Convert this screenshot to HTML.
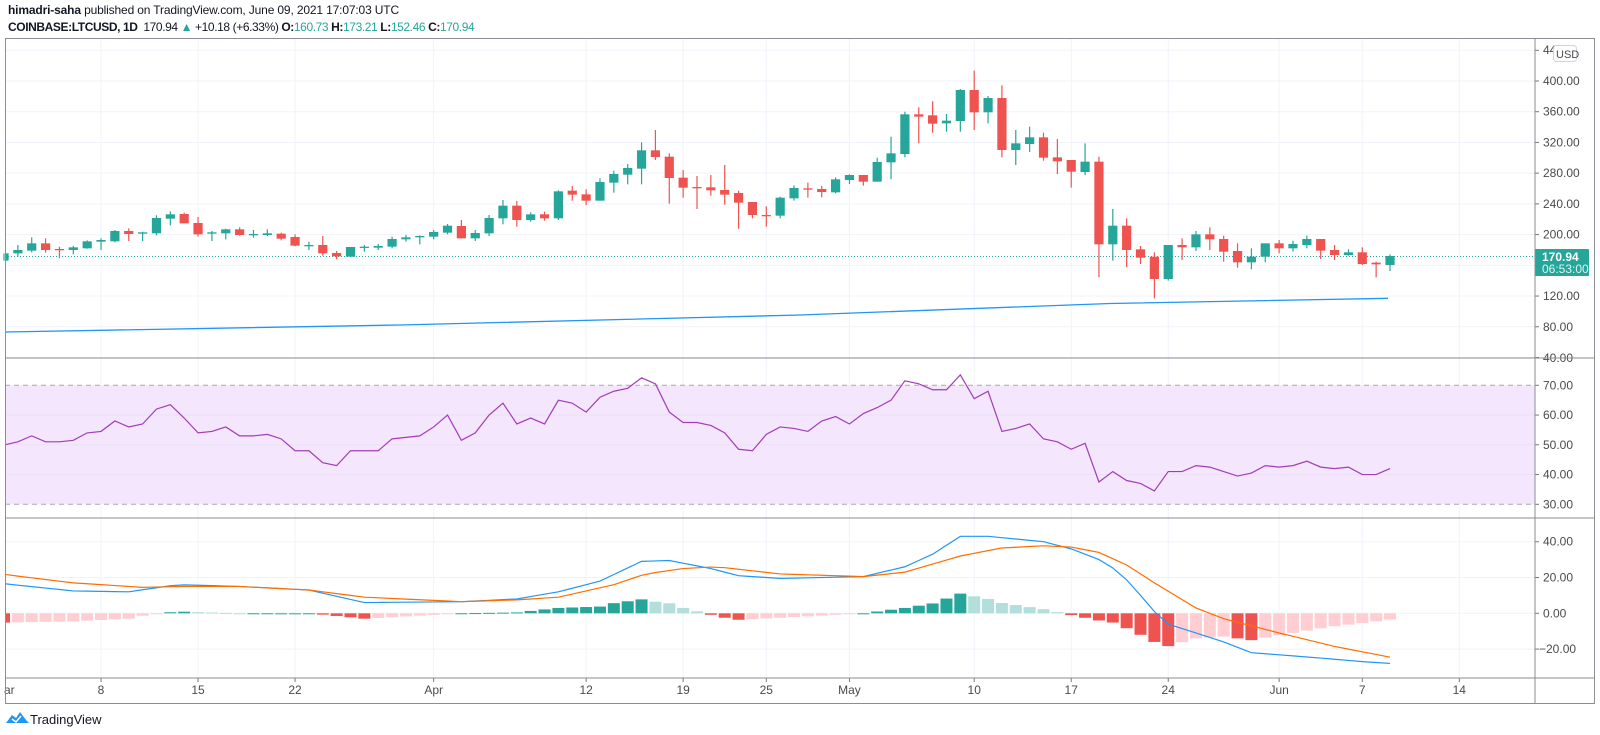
<!DOCTYPE html>
<html><head><meta charset="utf-8"><style>
html,body{margin:0;padding:0;background:#fff;width:1600px;height:735px;overflow:hidden;font-family:"Liberation Sans",sans-serif;}
.h{position:absolute;left:8px;font-size:12px;color:#131722;white-space:nowrap;}
.t{color:#26a69a}
</style></head><body>
<div class="h" style="top:3px;letter-spacing:-0.15px"><b>himadri-saha</b> published on TradingView.com, June 09, 2021 17:07:03 UTC</div>
<div class="h" style="top:20px;letter-spacing:-0.4px"><b>COINBASE:LTCUSD, 1D</b>&nbsp; 170.94 <span class="t">▲</span> +10.18 (+6.33%) <b>O:</b><span class="t">160.73</span> <b>H:</b><span class="t">173.21</span> <b>L:</b><span class="t">152.46</span> <b>C:</b><span class="t">170.94</span></div>
<svg id="s" width="1600" height="735" style="position:absolute;left:0;top:0" xmlns="http://www.w3.org/2000/svg"></svg>
<script>
var o=[];
function X(d){return 4+d*13.86;}
var vd=[0,7,14,21,31,42,49,55,61,70,77,84,92,98,105];
var vl=["ar","8","15","22","Apr","12","19","25","May","10","17","24","Jun","7","14"];
vd.forEach(function(d){var x=X(d);if(x>6)o.push('<line x1="'+x+'" y1="38" x2="'+x+'" y2="678" stroke="#f0f3fa"/>');});
function PY(p){return 81+(400-p)*0.768;}
for(var p=440;p>=40;p-=40){var y=PY(p);o.push('<line x1="5" y1="'+y+'" x2="1535" y2="'+y+'" stroke="#f0f3fa"/>');o.push('<line x1="1535" y1="'+y+'" x2="1539" y2="'+y+'" stroke="#777"/>');
 if(p<440&&p>40)o.push('<text x="1543" y="'+(y+4)+'" font-size="12" fill="#4a4a4a">'+p.toFixed(2)+'</text>');}
o.push('<text x="1543" y="54" font-size="12" fill="#4a4a4a">44</text>');
o.push('<text x="1543" y="362" font-size="12" fill="#4a4a4a">40.00</text>');
function RY(v){return 385.3+(70-v)*2.975;}
o.push('<rect x="5" y="'+RY(70)+'" width="1530" height="'+(RY(30)-RY(70))+'" fill="#f3e6fd"/>');
[60,50,40].forEach(function(v){o.push('<line x1="5" y1="'+RY(v)+'" x2="1535" y2="'+RY(v)+'" stroke="#ebe0f7"/>');});
[70,30].forEach(function(v){o.push('<line x1="5" y1="'+RY(v)+'" x2="1535" y2="'+RY(v)+'" stroke="#a9a9b4" stroke-dasharray="5,4"/>');});
[70,60,50,40,30].forEach(function(v){var y=RY(v);o.push('<line x1="1535" y1="'+y+'" x2="1539" y2="'+y+'" stroke="#777"/><text x="1543" y="'+(y+4)+'" font-size="12" fill="#4a4a4a">'+v.toFixed(2)+'</text>');});
var rsi=[50,51,53,51,51,51.5,54,54.5,58,56,57,62,63.5,59,54,54.5,56,53,53,53.5,52,48,48,44,43,48,48,48,52,52.5,53,56,60,51.5,54,60,64,57,59,57,65,64,61,66,68,69,72.5,70.5,61,57.5,57.5,56.5,54,48.5,48,53.5,56,55.5,54.5,58,59.5,57,60.5,62.5,65,71.5,70.5,68.5,68.5,73.5,65.5,68,54.5,55.5,57,52,51,48.5,50.5,37.5,41,38,37,34.5,41,41,43,42.5,41,39.5,40.5,43,42.5,43,44.5,42.5,42,42.5,40,40,42];
o.push('<polyline fill="none" stroke="#a23cb8" stroke-width="1.2" points="'+rsi.map(function(v,i){return Math.max(X(i),5)+','+RY(v)}).join(' ')+'"/>');
function MY(v){return 613.3-v*1.79;}
[40,20,0,-20].forEach(function(v){var y=MY(v);o.push('<line x1="5" y1="'+y+'" x2="1535" y2="'+y+'" stroke="#f0f3fa"/><line x1="1535" y1="'+y+'" x2="1539" y2="'+y+'" stroke="#777"/><text x="'+(v<0?1539:1543)+'" y="'+(y+4)+'" font-size="12" fill="#4a4a4a">'+(v<0?'\u2212'+(-v).toFixed(2):v.toFixed(2))+'</text>');});
function interp(k,n){var r=[];for(var d=0;d<=n;d++){for(var j=0;j<k.length-1;j++){if(d>=k[j][0]&&d<=k[j+1][0]){var t=(d-k[j][0])/(k[j+1][0]-k[j][0]);r.push(k[j][1]+t*(k[j+1][1]-k[j][1]));break;}}}return r;}
var blue=interp([[0,16.5],[5,12.5],[9,12],[12.5,16],[17,15],[22,13],[26,6],[33,6.5],[37,8],[40,12],[43,18],[46,29],[48,29.5],[51,25],[53,21],[56,19.5],[62,20.5],[65,26],[67,33],[69,43],[71,43],[75,40],[77,36],[79,30],[80.5,23],[82,10],[83,1],[84,-6],[88,-16],[90,-22],[95,-25],[98,-27],[100,-28]],100);
var orng=interp([[0,21.7],[5,17],[10,14.5],[13,15],[17,15],[22,13],[26,9],[33,6.5],[37,7.5],[40,9],[44,16],[46.3,22],[49,25],[51.4,26],[56,22],[62,20.5],[65,23],[69,32],[72,36.5],[75,37.7],[77,37],[79,34],[81,27],[83,17],[86,3],[88,-3],[92,-11],[96,-18.5],[100,-24.5]],100);
var prev=0;
for(var d=0;d<=100;d++){var h=blue[d]-orng[d];var c;
 if(h>=0)c=(h>=prev)?'#26a69a':'#b2dfdb';else c=(h<=prev)?'#ef5350':'#ffcdd2';
 prev=h;var y1=MY(Math.max(h,0)),y2=MY(Math.min(h,0));var x=X(d)-6;var w=12;if(x<5){w-=5-x;x=5;}
 o.push('<rect x="'+x+'" y="'+y1+'" width="'+w+'" height="'+Math.max(y2-y1,1)+'" fill="'+c+'"/>');}
o.push('<polyline fill="none" stroke="#2196f3" stroke-width="1.2" points="'+blue.map(function(v,i){return Math.max(X(i),5)+','+MY(v)}).join(' ')+'"/>');
o.push('<polyline fill="none" stroke="#ff6d00" stroke-width="1.2" points="'+orng.map(function(v,i){return Math.max(X(i),5)+','+MY(v)}).join(' ')+'"/>');
o.push('<polyline fill="none" stroke="#2196f3" stroke-width="1.3" points="5,332 400,325 800,315 1110,303.5 1388,298.3"/>');
o.push('<line x1="5" y1="256.5" x2="1535" y2="256.5" stroke="#26a69a" stroke-dasharray="1,2"/>');
var Z=[[170,[[0,250,272,250,272,'g'],[1,240,250,225,260,'g'],[2,220,242,202,247,'g'],[3,220,240,205,248,'r'],[4,237,239,230,265,'r'],[5,232,240,228,253,'g'],[6,214,235,211,236,'g'],[7,210,215,205,240,'g'],[8,183,214,180,217,'g'],[9,183,192,175,213,'r'],[10,187,191,185,213,'g'],[11,144,190,136,196,'g'],[12,133,146,124,166,'g'],[13,132,160,128,160,'r'],[14,159,193,141,200,'r'],[15,187,191,183,213,'g'],[16,178,190,176,208,'g'],[17,178,195,172,197,'r'],[18,192,195,180,203,'g'],[19,190,195,178,198,'g'],[20,191,206,188,211,'r'],[21,201,227,193,229,'r'],[22,225,227,215,240,'g'],[23,225,250,198,257,'r'],[24,249,259,243,268,'r'],[25,231,260,231,260,'g'],[26,230,233,225,245,'g'],[27,228,233,222,240,'g'],[28,207,230,200,235,'g'],[29,202,208,195,215,'g'],[30,198,202,196,223,'g'],[31,186,200,180,208,'g']]],
[110,[[32,347,368,342,373,'g'],[33,348,385,330,385,'r'],[34,369,385,360,393,'g'],[35,324,370,315,378,'g'],[36,287,325,270,343,'g'],[37,287,330,273,350,'r'],[38,313,330,307,335,'g'],[39,313,325,305,332,'r'],[40,244,325,241,330,'g'],[41,242,254,228,272,'r'],[42,253,272,238,285,'r'],[43,216,272,205,272,'g'],[44,192,218,182,248,'g'],[45,174,194,162,223,'g'],[46,121,176,97,223,'g'],[47,121,141,60,150,'r'],[48,140,204,130,281,'r'],[49,203,233,180,263,'r'],[50,231,233,198,297,'r'],[51,232,241,195,257,'r'],[52,240,254,165,284,'r'],[53,249,278,242,356,'r'],[54,276,315,276,325,'r'],[55,315,317,289,350,'r'],[56,263,317,260,325,'g'],[57,234,265,226,272,'g'],[58,235,238,218,263,'r'],[59,237,246,228,262,'r'],[60,208,247,202,250,'g'],[61,195,210,193,222,'g'],[62,195,215,195,227,'r'],[63,156,215,143,215,'g']]],
[60,[[64,280,307,230,358,'g'],[65,163,282,155,292,'g'],[66,163,170,142,250,'r'],[67,166,191,124,218,'r'],[68,182,190,162,215,'g'],[69,90,183,87,215,'g'],[70,90,157,32,210,'r'],[71,114,157,108,190,'g'],[72,114,270,76,292,'r'],[73,250,270,210,315,'g'],[74,232,252,200,276,'g'],[75,232,293,218,302,'r'],[76,292,304,237,342,'r'],[77,300,335,300,383,'r'],[78,305,336,250,345,'g'],[79,305,553,290,652,'r']]],
[90,[[80,407,463,357,512,'g'],[81,407,480,385,532,'r'],[82,478,503,468,522,'r'],[83,500,567,487,625,'r'],[84,465,567,465,572,'g'],[85,465,472,445,510,'r'],[86,433,472,423,483,'g'],[87,433,448,412,480,'r'],[88,447,485,437,515,'r'],[89,483,517,460,533,'r'],[90,500,517,475,538,'g'],[91,460,500,460,517,'g'],[92,460,475,450,490,'r'],[93,462,475,452,485,'g'],[94,447,465,437,475,'g'],[95,447,482,447,507,'r'],[96,480,495,465,510,'r'],[97,487,495,478,497,'g'],[98,487,522,472,525,'r'],[99,518,523,515,562,'r'],[100,498,525,493,543,'g']]]];
Z.forEach(function(g){var y0=g[0];g[1].forEach(function(c){var x=X(c[0]);var col=c[5]=='g'?'#26a69a':'#ef5350';
 var bt=y0+c[1]/3,bb=y0+c[2]/3,wt=y0+c[3]/3,wb=y0+c[4]/3;
 o.push('<line x1="'+x+'" y1="'+wt+'" x2="'+x+'" y2="'+wb+'" stroke="'+col+'" stroke-width="1.2"/>');
 var bx=x-4.6,bw=9.2;if(bx<5){bw-=5-bx;bx=5;}
 o.push('<rect x="'+bx+'" y="'+bt+'" width="'+bw+'" height="'+Math.max(bb-bt,1.3)+'" fill="'+col+'"/>');});});
o.push('<rect x="1535" y="249" width="54" height="27" rx="1" fill="#26a69a"/><text x="1542" y="261" font-size="12" font-weight="bold" fill="#fff">170.94</text><text x="1542" y="273" font-size="12" fill="#e0f2f1">06:53:00</text>');
o.push('<rect x="1553.5" y="45.5" width="23" height="16" rx="3" fill="#fff" stroke="#d1d4dc"/><text x="1556" y="58" font-size="11" fill="#4a4a4a">USD</text>');
vd.forEach(function(d,i){var x=X(d);if(x>6)o.push('<line x1="'+x+'" y1="678" x2="'+x+'" y2="682" stroke="#777"/>');
 o.push('<text x="'+Math.max(x,4)+'" y="694" font-size="12" fill="#4a4a4a" text-anchor="'+(i==0?'start':'middle')+'">'+vl[i]+'</text>');});
o.push('<rect x="5.5" y="38.5" width="1589" height="665" fill="none" stroke="#8a8d94"/>');
o.push('<line x1="1535" y1="38" x2="1535" y2="703" stroke="#8a8d94"/>');
[358,518,678].forEach(function(y){o.push('<line x1="5" y1="'+y+'" x2="1595" y2="'+y+'" stroke="#8a8d94"/>');});
o.push('<path d="M6,723 L12,715 L16,718 L20,712 L26,720 L29,723 Z" fill="#2196f3"/><path d="M12,719 L16,722 L21,716" stroke="#fff" stroke-width="1.5" fill="none"/>');
o.push('<text x="30" y="724" font-size="13" fill="#131722">TradingView</text>');
document.getElementById('s').innerHTML=o.join('');
</script>
</body></html>
